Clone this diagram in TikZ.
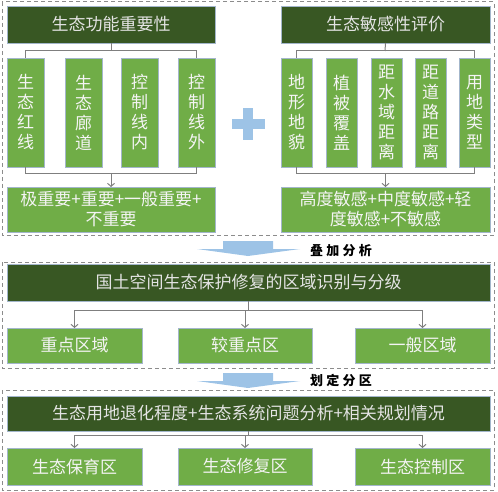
\documentclass[tikz,border=0pt]{standalone}
\usepackage{fontspec}
\usepackage{tikz}
\usetikzlibrary{arrows.meta}

\newfontfamily\cjk{Noto Sans CJK SC}
\newfontfamily\cjklbl[LetterSpace=25]{Noto Sans CJK SC}

\definecolor{dkgreen}{HTML}{385723}
\definecolor{ltgreen}{HTML}{70AD47}
\definecolor{boxline}{HTML}{A3B6CB}
\definecolor{hdrtext}{HTML}{E4E4E4}
\definecolor{itemtext}{HTML}{F4F4F4}
\definecolor{connline}{HTML}{7F7F7F}
\definecolor{framegray}{HTML}{8C8C8C}
\definecolor{arrowblue}{HTML}{9DC3E6}

\tikzset{
  hdr/.style={draw=boxline, line width=0.6pt, fill=dkgreen, text=hdrtext, anchor=north west,
    inner sep=0pt, outer sep=0pt, font=\cjk\fontsize{17}{20}\selectfont},
  item/.style={draw=boxline, line width=0.6pt, fill=ltgreen, text=itemtext, anchor=north west,
    inner sep=0pt, outer sep=0pt, align=center, font=\cjk\fontsize{17}{20}\selectfont},
  conn/.style={draw=connline, line width=1pt},
  arr/.style={conn, -{Straight Barb[length=3pt,width=7pt]}},
  frame/.style={draw=framegray, line width=1pt, dash pattern=on 4pt off 3pt},
  bigarrow/.style={fill=arrowblue, draw=none},
  lbl/.style={inner sep=0pt, font=\cjklbl\bfseries\fontsize{13}{15}\selectfont},
}

\begin{document}
\begin{tikzpicture}[x=1pt,y=1pt,yscale=-1]
\useasboundingbox (0,0) rectangle (498,492);

%Dashed frames
\draw[frame] (2,2) rectangle (494,235);
\draw[frame] (2,262) rectangle (494,368);
\draw[frame] (2,390) rectangle (494,490);

% Ecological function importance
\node[hdr, minimum width=208pt, minimum height=37pt] (hdrEco) at (7,6) {生态功能重要性};
\node[item, minimum width=37pt, minimum height=109pt] (eco1) at (7,58) {生\\态\\红\\线};
\node[item, minimum width=37pt, minimum height=109pt] (eco2) at (65,58) {生\\态\\廊\\道};
\node[item, minimum width=37pt, minimum height=109pt] (eco3) at (121,58) {控\\制\\线\\内};
\node[item, minimum width=37pt, minimum height=109pt] (eco4) at (178,58) {控\\制\\线\\外};
\node[item, minimum width=208pt, minimum height=45pt] (resEco) at (7,187) {极重要+重要+一般重要+\\不重要};

\coordinate (ecoT) at (111,51);
\coordinate (ecoB) at (111,173);
\draw[conn] (hdrEco.south) -- (ecoT);
\draw[conn] (eco1.north) -- (eco1.north |- ecoT) -- (eco4.north |- ecoT) -- (eco4.north);
\draw[conn] (eco1.south) -- (eco1.south |- ecoB) -- (eco4.south |- ecoB) -- (eco4.south);
\draw[arr] (resEco.north |- ecoB) -- (resEco.north);

%Plus sign
\fill[bigarrow] (243,108) rectangle (253,140);
\fill[bigarrow] (232,119) rectangle (265,129);

% Ecological sensitivity evaluation
\node[hdr, minimum width=209pt, minimum height=37pt] (hdrSen) at (281,6) {生态敏感性评价};
\node[item, minimum width=31pt, minimum height=109pt] (sen1) at (281,58) {地\\形\\地\\貌};
\node[item, minimum width=31pt, minimum height=109pt] (sen2) at (326,58) {植\\被\\覆\\盖};
\node[item, minimum width=31pt, minimum height=109pt] (sen3) at (371,58) {距\\水\\域\\距\\离};
\node[item, minimum width=31pt, minimum height=109pt] (sen4) at (415,58) {距\\道\\路\\距\\离};
\node[item, minimum width=31pt, minimum height=109pt] (sen5) at (459,58) {用\\地\\类\\型};
\node[item, minimum width=209pt, minimum height=45pt] (resSen) at (281,187) {高度敏感+中度敏感+轻\\度敏感+不敏感};

\coordinate (senT) at (385,51);
\coordinate (senB) at (385,173);
\draw[conn] (hdrSen.south) -- (senT);
\draw[conn] (sen1.north) -- (sen1.north |- senT) -- (sen5.north |- senT) -- (sen5.north);
\draw[conn] (sen1.south) -- (sen1.south |- senB) -- (sen5.south |- senB) -- (sen5.south);
\draw[arr] (resSen.north |- senB) -- (resSen.north);

%Overlay arrow
\fill[bigarrow] (223,241) -- (273,241) -- (273,249) -- (300,249) -- (248,256) -- (197,249) -- (223,249) -- cycle;
\node[lbl] (lblOverlay) at (341,251) {叠加分析};

% Zone identification
\node[hdr, minimum width=483pt, minimum height=37pt] (hdrZone) at (7,264) {国土空间生态保护修复的区域识别与分级};
\node[item, minimum width=135pt, minimum height=35pt] (zone1) at (7,328) {重点区域};
\node[item, minimum width=134pt, minimum height=35pt] (zone2) at (178,328) {较重点区};
\node[item, minimum width=135pt, minimum height=35pt] (zone3) at (355,328) {一般区域};

\coordinate (zoneM) at (248,310);
\draw[conn] (hdrZone.south) -- (hdrZone.south |- zoneM);
\draw[conn] (zone1.north |- zoneM) -- (zone3.north |- zoneM);
\foreach \z in {zone1,zone2,zone3}
  \draw[arr] (\z.north |- zoneM) -- (\z.north);

%Zoning arrow
\fill[bigarrow] (223,373) -- (273,373) -- (273,381) -- (300,381) -- (248,388) -- (197,381) -- (223,381) -- cycle;
\node[lbl] (lblZoning) at (341,380) {划定分区};

% Zoning result
\node[hdr, minimum width=483pt, minimum height=35pt] (hdrArea) at (7,396) {生态用地退化程度+生态系统问题分析+相关规划情况};
\node[item, minimum width=135pt, minimum height=37pt] (area1) at (7,448) {生态保育区};
\node[item, minimum width=134pt, minimum height=37pt] (area2) at (178,448) {生态修复区};
\node[item, minimum width=135pt, minimum height=37pt] (area3) at (355,448) {生态控制区};

\coordinate (areaM) at (248,435);
\draw[conn] (hdrArea.south) -- (hdrArea.south |- areaM);
\draw[conn] (area1.north |- areaM) -- (area3.north |- areaM);
\foreach \z in {area1,area2,area3}
  \draw[arr] (\z.north |- areaM) -- (\z.north);

\end{tikzpicture}
\end{document}
